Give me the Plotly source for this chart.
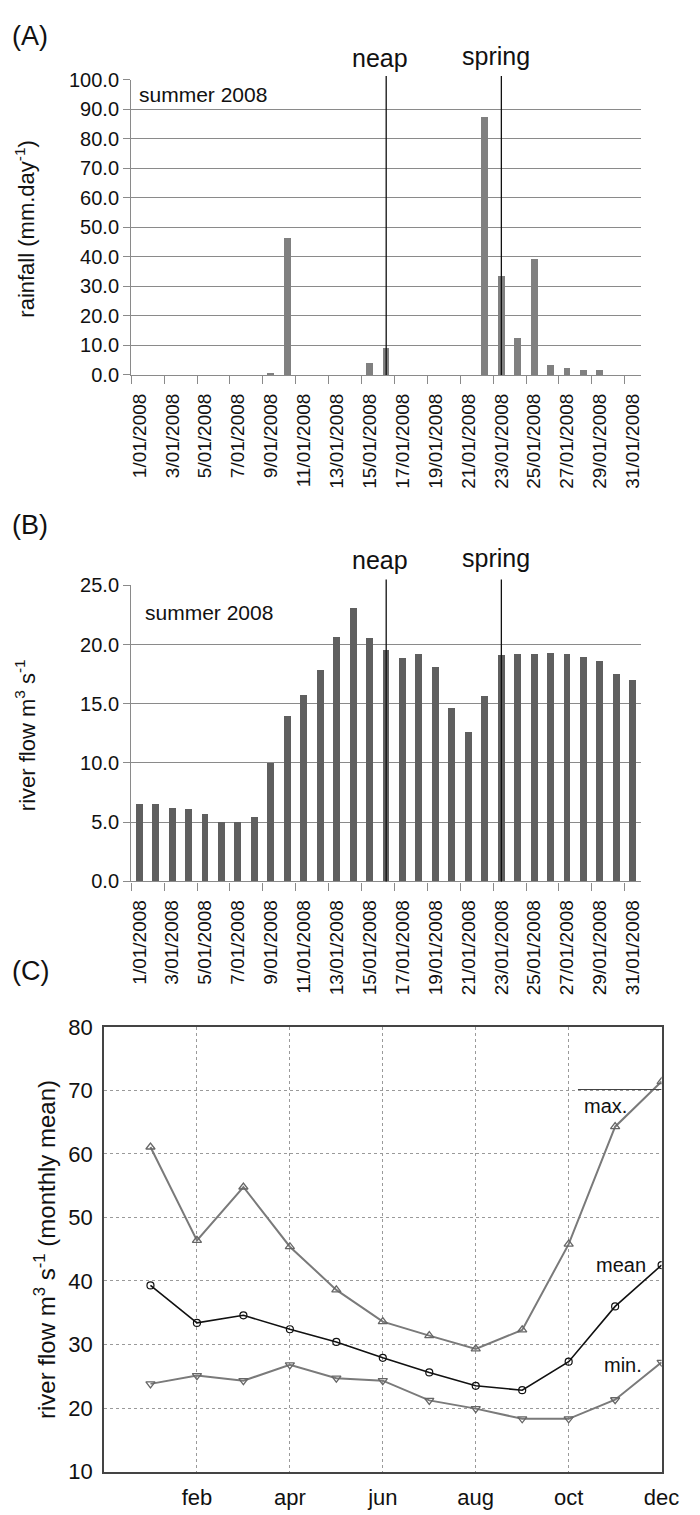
import plotly.graph_objects as go

# ---- data -------------------------------------------------------------
days = list(range(1, 32))
date_labels = [f"{d}/01/2008" for d in days]

rainfall = [0, 0, 0, 0, 0, 0, 0, 0, 0.8, 46.6, 0, 0, 0, 0, 4.0, 9.3,
            0, 0, 0, 0, 0, 87.5, 33.6, 12.7, 39.2, 3.3, 2.3, 1.6, 1.6, 0, 0]

river_flow = [6.5, 6.5, 6.2, 6.05, 5.65, 5.0, 5.0, 5.45, 10.0, 13.9, 15.7,
              17.8, 20.6, 23.1, 20.5, 19.5, 18.8, 19.2, 18.1, 14.6, 12.6,
              15.6, 19.1, 19.2, 19.2, 19.3, 19.2, 18.9, 18.6, 17.5, 17.0]

neap_day = 16
spring_day = 23

months = list(range(1, 13))
month_tick_vals = [2, 4, 6, 8, 10, 12]
month_tick_text = ["feb", "apr", "jun", "aug", "oct", "dec"]

flow_max = [61.1, 46.4, 54.8, 45.4, 38.6, 33.6, 31.4, 29.3, 32.3, 45.8, 64.3, 71.4]
flow_mean = [39.3, 33.4, 34.6, 32.4, 30.4, 27.9, 25.6, 23.5, 22.8, 27.3, 36.0, 42.5]
flow_min = [23.8, 25.1, 24.3, 26.8, 24.7, 24.3, 21.2, 19.9, 18.3, 18.3, 21.3, 27.2]

# ---- page geometry (pixels) -----------------------------------------
W, H = 700, 1515
FONT = "Liberation Sans, Arial, sans-serif"
INK = "#111111"


def px(x):
    return x / W


def py(y):
    return 1 - y / H


AB_LEFT, AB_RIGHT = 133, 658
A_TOP, A_BOT = 69, 369
B_TOP, B_BOT = 583, 884
C_LEFT, C_RIGHT = 105, 679
C_TOP, C_BOT = 1032, 1484

GRID = "#8a8a8a"

fig = go.Figure()

fig.add_trace(go.Bar(x=days, y=rainfall, width=0.42, marker_color="#808080",
                     marker_line_width=0, xaxis="x", yaxis="y", showlegend=False))
fig.add_trace(go.Bar(x=days, y=river_flow, width=0.42, marker_color="#5f5f5f",
                     marker_line_width=0, xaxis="x2", yaxis="y2", showlegend=False))

fig.add_trace(go.Scatter(x=months, y=flow_max, mode="lines+markers",
                         line=dict(color="#7a7a7a", width=2),
                         marker=dict(symbol="triangle-up-open", size=8, color="#666666",
                                     line=dict(width=1.3)),
                         xaxis="x3", yaxis="y3", showlegend=False))
fig.add_trace(go.Scatter(x=months, y=flow_min, mode="lines+markers",
                         line=dict(color="#7a7a7a", width=2),
                         marker=dict(symbol="triangle-down-open", size=8, color="#666666",
                                     line=dict(width=1.3)),
                         xaxis="x3", yaxis="y3", showlegend=False))
fig.add_trace(go.Scatter(x=months, y=flow_mean, mode="lines+markers",
                         line=dict(color=INK, width=1.6),
                         marker=dict(symbol="circle-open", size=7, color=INK,
                                     line=dict(width=1.2)),
                         xaxis="x3", yaxis="y3", showlegend=False))

# date axis: labels on odd days, visible tick marks between category pairs
date_axis = dict(
    range=[0.5, 31.5], tickmode="array", tickvals=days[::2], ticktext=date_labels[::2],
    tickangle=-90, ticks="outside", ticklen=10, tickcolor="rgba(0,0,0,0)",
    showgrid=False, zeroline=False,
    showline=True, linecolor=GRID, linewidth=1.3,
    tickfont=dict(family=FONT, size=19, color=INK),
    minor=dict(tick0=0.5, dtick=2, ticks="outside", ticklen=8, tickcolor=GRID,
               tickwidth=1.3, showgrid=False),
)

value_axis = dict(
    tickformat=".1f", showgrid=True, gridcolor=GRID, gridwidth=1.3,
    zeroline=False, showline=True, linecolor=GRID, linewidth=1.3,
    ticks="outside", ticklen=7, tickcolor=GRID,
    tickfont=dict(family=FONT, size=20, color=INK),
)

month_frame = dict(
    showgrid=True, gridcolor="#9a9a9a", griddash="dot", gridwidth=1,
    zeroline=False, showline=True, mirror=True, linecolor="#444", linewidth=1.5,
    ticks="outside", ticklen=5, tickcolor="rgba(0,0,0,0)",
    tickfont=dict(family=FONT, size=22, color=INK),
)

fig.update_layout(
    width=W, height=H, margin=dict(l=0, r=0, t=0, b=0),
    paper_bgcolor="white", plot_bgcolor="white", bargap=0,
    font=dict(family=FONT, color=INK),
    xaxis=dict(domain=[px(AB_LEFT), px(AB_RIGHT)], anchor="y", **date_axis),
    yaxis=dict(domain=[py(A_BOT), py(A_TOP)], anchor="x", range=[0, 100], dtick=10,
               **value_axis),
    xaxis2=dict(domain=[px(AB_LEFT), px(AB_RIGHT)], anchor="y2", **date_axis),
    yaxis2=dict(domain=[py(B_BOT), py(B_TOP)], anchor="x2", range=[0, 25], dtick=5,
                **value_axis),
    xaxis3=dict(domain=[px(C_LEFT), px(C_RIGHT)], anchor="y3", range=[0, 12],
                tickmode="array", tickvals=month_tick_vals, ticktext=month_tick_text,
                **month_frame),
    yaxis3=dict(domain=[py(C_BOT), py(C_TOP)], anchor="x3", range=[10, 80], dtick=10,
                **month_frame),
)

shapes = []
annotations = []


def label(text, x, y, size, xref="paper", yref="paper", xanchor="center", angle=0):
    annotations.append(dict(text=text, xref=xref, yref=yref, x=x, y=y,
                            xanchor=xanchor, yanchor="middle", textangle=angle,
                            showarrow=False, font=dict(size=size, family=FONT, color=INK)))


# neap / spring markers on panels A and B
for xa, top_px, bot_px in (("x", A_TOP - 4, A_BOT), ("x2", B_TOP - 6, B_BOT)):
    for d in (neap_day, spring_day):
        shapes.append(dict(type="line", xref=xa, yref="paper", x0=d, x1=d,
                           y0=py(bot_px), y1=py(top_px),
                           line=dict(color=INK, width=1.3)))

for xa, ny, sy in (("x", 47, 45), ("x2", 557, 555)):
    label("neap", neap_day - 0.4, py(ny), 25, xref=xa)
    label("spring", spring_day - 0.3, py(sy), 25, xref=xa)

label("summer 2008", px(139), py(84), 21, xanchor="left")
label("summer 2008", px(145), py(611), 21, xanchor="left")

# panel letters
for lab, yy in (("(A)", 24), ("(B)", 522), ("(C)", 975)):
    label(lab, px(8), py(yy), 27, xanchor="left")

# axis titles
label("rainfall (mm.day<sup>-1</sup>)", px(24), py(220), 22, angle=-90)
label("river flow m<sup>3</sup> s<sup>-1</sup>", px(24), py(735), 22, angle=-90)
label("river flow m<sup>3</sup> s<sup>-1</sup> (monthly mean)", px(44), py(1258), 24, angle=-90)

# series labels on panel C
for lab, xx, yy in (("max.", 10.79, 67.6), ("mean", 11.12, 42.5), ("min.", 11.16, 26.7)):
    label(lab, xx, yy, 20, xref="x3", yref="y3")

# short rule above the max. label and small break in the lower frame
shapes.append(dict(type="line", xref="x3", yref="y3", x0=10.2, x1=12, y0=70.15, y1=70.15,
                   line=dict(color="#444", width=1.2)))
shapes.append(dict(type="line", xref="x3", yref="y3", x0=8.86, x1=9.03, y0=10, y1=10,
                   line=dict(color="white", width=3)))

fig.update_layout(shapes=shapes, annotations=annotations)

fig.write_html("out.html")
